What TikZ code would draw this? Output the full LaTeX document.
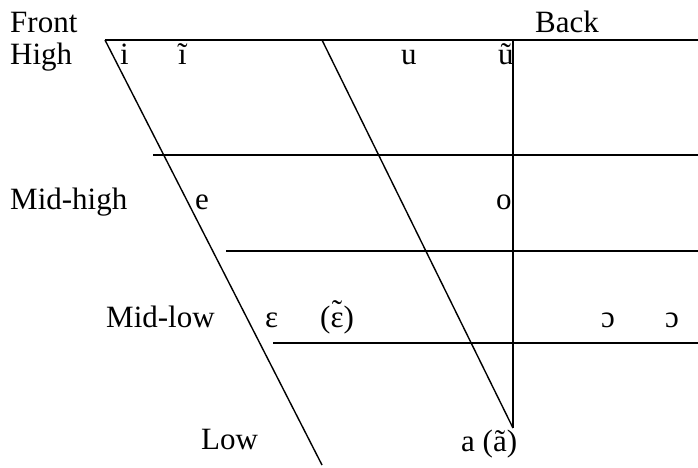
\documentclass[tikz,border=0pt]{standalone}
\usepackage{fontspec}
\setmainfont{Liberation Serif}
\newcommand{\epstilde}{{\ooalign{ε\cr\hidewidth\raisebox{0.18em}{˜}\hidewidth\cr}}}
\begin{document}
\begin{tikzpicture}[x=1pt,y=-1pt,
  lbl/.style={anchor=base west,inner sep=0pt,font=\fontsize{31}{36}\selectfont},
  chartline/.style={line width=1.4pt,black}]
\useasboundingbox (0,0) rectangle (698,468);
% frame coordinates
\coordinate (tl) at (105,40);
\coordinate (tm) at (322,40);
\coordinate (tv) at (513,40);
\coordinate (tr) at (698,40);
\coordinate (bl) at (322,465);
\coordinate (bv) at (513,428);
\coordinate (h1a) at (153,155); \coordinate (h1b) at (698,155);
\coordinate (h2a) at (226,251); \coordinate (h2b) at (698,251);
\coordinate (h3a) at (273,343); \coordinate (h3b) at (698,343);
\draw[chartline] (tl) -- (tr);
\draw[chartline] (tl) -- (bl);
\draw[chartline] (tm) -- (bv);
\draw[chartline] (tv) -- (bv);
\draw[chartline] (h1a) -- (h1b);
\draw[chartline] (h2a) -- (h2b);
\draw[chartline] (h3a) -- (h3b);
% labels
\node[lbl] (front) at (10,33) {Front};
\node[lbl] (back) at (535,33) {Back};
\node[lbl] (high) at (10,65) {High};
\node[lbl] (i) at (120,65) {i};
\node[lbl] (itil) at (178,65) {ĩ};
\node[lbl] (u) at (401,65) {u};
\node[lbl] (util) at (498,65) {ũ};
\node[lbl] (midhigh) at (10,209) {Mid-high};
\node[lbl] (e) at (195,209) {e};
\node[lbl] (o) at (496,209) {o};
\node[lbl] (midlow) at (106,327) {Mid-low};
\node[lbl] (eps) at (265,327) {ε};
\node[lbl] (epstil) at (320,327) {(\epstilde)};
\node[lbl] (oo1) at (601,327) {ɔ};
\node[lbl] (oo2) at (665,327) {ɔ};
\node[lbl] (low) at (201,449) {Low};
\node[lbl] (a) at (461,451) {a (ã)};
\end{tikzpicture}
\end{document}
